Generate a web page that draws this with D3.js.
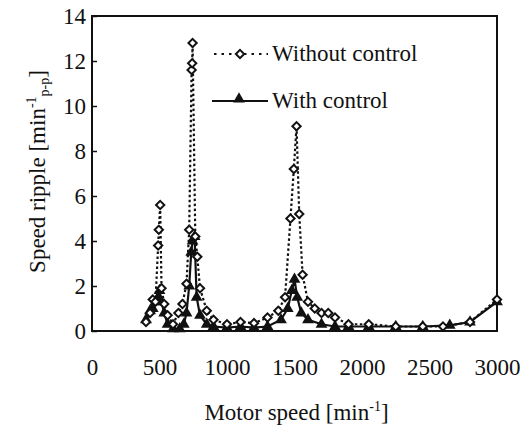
<!DOCTYPE html>
<html>
<head>
<meta charset="utf-8">
<script src="https://cdn.jsdelivr.net/npm/d3@7"></script>
<style>
  body { margin: 0; background: #fff; }
  svg text { font-family: "Liberation Serif", "Times New Roman", serif; fill: #111; }
</style>
</head>
<body>
<div id="chart"></div>
<script>
// motor speed [min^-1] and ripple values
var speedWithout = [400, 430, 450, 470, 490, 495, 505, 515, 535, 560, 600, 640, 670, 700, 720, 738, 742, 745, 765, 780, 800, 850, 900, 1000, 1100, 1200, 1300, 1380, 1430, 1470, 1495, 1515, 1535, 1560, 1600, 1650, 1700, 1750, 1800, 1900, 2050, 2250, 2450, 2600, 2800, 3000];
var rippleWithout = [0.4, 0.8, 1.4, 1.3, 3.8, 4.5, 5.6, 1.9, 1.2, 0.7, 0.3, 0.8, 1.2, 2.1, 4.5, 11.6, 11.9, 12.8, 4.2, 3.3, 1.9, 0.9, 0.5, 0.3, 0.4, 0.35, 0.6, 0.9, 1.5, 5.0, 7.2, 9.1, 5.2, 2.5, 1.3, 1.0, 0.8, 0.8, 0.6, 0.3, 0.3, 0.2, 0.2, 0.2, 0.4, 1.4];

var speedWith = [400, 430, 450, 470, 490, 500, 515, 535, 560, 600, 650, 680, 700, 720, 735, 745, 760, 775, 800, 850, 900, 1000, 1100, 1200, 1300, 1400, 1450, 1480, 1500, 1520, 1550, 1600, 1700, 1800, 1900, 2050, 2250, 2450, 2650, 2800, 3000];
var rippleWith = [0.5, 0.9, 1.0, 1.3, 1.5, 1.8, 1.3, 0.8, 0.3, 0.1, 0.1, 0.3, 0.8, 2.0, 3.5, 4.0, 4.2, 1.5, 0.7, 0.3, 0.2, 0.15, 0.2, 0.15, 0.2, 0.5, 1.0, 1.8, 2.3, 1.5, 0.8, 0.5, 0.3, 0.2, 0.2, 0.2, 0.2, 0.2, 0.25, 0.4, 1.3];

var xTicks = [0, 500, 1000, 1500, 2000, 2500, 3000];
var yTicks = [0, 2, 4, 6, 8, 10, 12, 14];
var legendLabels = ["Without control", "With control"];

var width = 526, height = 432;
var margin = {left: 92, right: 29, top: 16, bottom: 101};
var fontFam = "'Liberation Serif', 'Times New Roman', serif";

var svg = d3.select("#chart").append("svg")
  .attr("width", width)
  .attr("height", height);

var x = d3.scaleLinear().domain([0, 3000]).range([margin.left, width - margin.right]);
var y = d3.scaleLinear().domain([0, 14]).range([height - margin.bottom, margin.top]);

// frame
svg.append("rect")
  .attr("x", x(0)).attr("y", y(14))
  .attr("width", x(3000) - x(0)).attr("height", y(0) - y(14))
  .attr("fill", "none").attr("stroke", "#111").attr("stroke-width", 2);

// y axis: inward ticks
var yAxis = d3.axisLeft(y).tickValues(yTicks).tickSize(-5).tickPadding(6);
var gy = svg.append("g").attr("transform", "translate(" + x(0) + ",0)").call(yAxis)
  .attr("font-family", fontFam).attr("font-size", 23);
gy.select(".domain").remove();
gy.selectAll("line").attr("stroke", "#111").attr("stroke-width", 1.5);
gy.selectAll("text").attr("fill", "#111");

var xAxis = d3.axisBottom(x).tickValues(xTicks).tickFormat(d3.format("d")).tickSize(0).tickPadding(28);
var gx = svg.append("g").attr("transform", "translate(0," + y(0) + ")").call(xAxis)
  .attr("font-family", fontFam).attr("font-size", 23);
gx.select(".domain").remove();
gx.selectAll("text").attr("fill", "#111");

// axis titles
var xt = svg.append("text")
  .attr("x", (x(0) + x(3000)) / 2 + 2).attr("y", 420)
  .attr("text-anchor", "middle").style("font-size", "23px");
xt.append("tspan").text("Motor speed [min");
xt.append("tspan").attr("dy", -9).style("font-size", "14px").text("-1");
xt.append("tspan").attr("dy", 9).text("]");

var yt = svg.append("text")
  .attr("transform", "translate(45," + ((y(0) + y(14)) / 2 - 2) + ") rotate(-90)")
  .attr("text-anchor", "middle").style("font-size", "23px");
yt.append("tspan").text("Speed ripple [min");
yt.append("tspan").attr("dy", -9).style("font-size", "14px").text("-1");
yt.append("tspan").attr("dy", 13).style("font-size", "14px").text("p-p");
yt.append("tspan").attr("dy", -4).text("]");

var line = d3.line().x(d => x(d[0])).y(d => y(d[1]));
var dataWithout = speedWithout.map((s, i) => [s, rippleWithout[i]]);
var dataWith = speedWith.map((s, i) => [s, rippleWith[i]]);

var diamond = d3.symbol().type(d3.symbolDiamond2).size(44);
var triangle = d3.symbol().type(d3.symbolTriangle).size(60);

// with control
svg.append("path").datum(dataWith)
  .attr("d", line).attr("fill", "none")
  .attr("stroke", "#111").attr("stroke-width", 2.2);
svg.selectAll(".tri").data(dataWith).enter().append("path")
  .attr("class", "tri")
  .attr("transform", d => "translate(" + x(d[0]) + "," + y(d[1]) + ")")
  .attr("d", triangle).attr("fill", "#111");

// without control
svg.append("path").datum(dataWithout)
  .attr("d", line).attr("fill", "none")
  .attr("stroke", "#111").attr("stroke-width", 2.2)
  .attr("stroke-dasharray", "2.5,2.5");
svg.selectAll(".dia").data(dataWithout).enter().append("path")
  .attr("class", "dia")
  .attr("transform", d => "translate(" + x(d[0]) + "," + y(d[1]) + ")")
  .attr("d", diamond).attr("fill", "#fff")
  .attr("stroke", "#111").attr("stroke-width", 2);

// legend
var lg = svg.append("g");
lg.append("line").attr("x1", 214).attr("x2", 268).attr("y1", 54).attr("y2", 54)
  .attr("stroke", "#111").attr("stroke-width", 2.2).attr("stroke-dasharray", "2.5,5");
lg.append("path").attr("transform", "translate(240,54)").attr("d", diamond)
  .attr("fill", "#fff").attr("stroke", "#111").attr("stroke-width", 2);
lg.append("line").attr("x1", 212).attr("x2", 268).attr("y1", 101).attr("y2", 101)
  .attr("stroke", "#111").attr("stroke-width", 2.2);
lg.append("path").attr("transform", "translate(239,99)").attr("d", triangle).attr("fill", "#111");
lg.selectAll(".lt").data(legendLabels).enter().append("text")
  .attr("x", 272).attr("y", (d, i) => 61 + i * 47)
  .style("font-size", "23px").text(d => d);
</script>
</body>
</html>
